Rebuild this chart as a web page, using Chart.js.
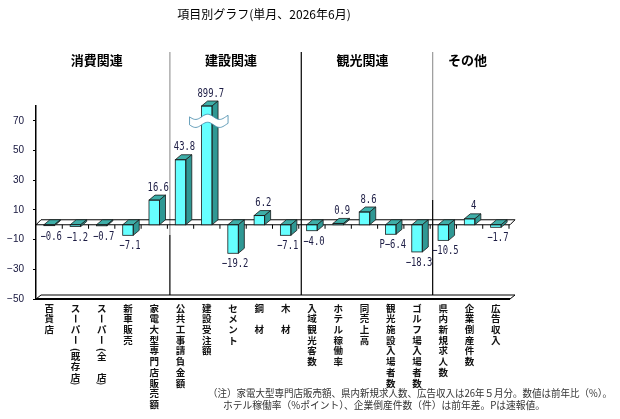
<!DOCTYPE html>
<html>
<head>
<meta charset="utf-8">
<script src="https://cdn.jsdelivr.net/npm/chart.js@4/dist/chart.umd.min.js"></script>
<style>
  html, body { margin: 0; padding: 0; background: #fff; }
  #wrap { position: relative; width: 620px; height: 419px; }
</style>
</head>
<body>
<div id="wrap"><canvas id="chart" width="620" height="419"></canvas></div>
<script>
const categories = [
  '百貨店', 'スーパー(既存店)', 'スーパー(全　店)', '新車販売', '家電大型専門店販売額',
  '公共工事請負金額', '建設受注額', 'セメント', '鋼　材', '木　材',
  '入域観光客数', 'ホテル稼働率', '同売上高', '観光施設入場者数', 'ゴルフ場入場者数',
  '県内新規求人数', '企業倒産件数', '広告収入'
];
const values = [-0.6, -1.2, -0.7, -7.1, 16.6, 43.8, 899.7, -19.2, 6.2, -7.1, -4.0, 0.9, 8.6, -6.4, -18.3, -10.5, 4, -1.7];
const valueLabels = ['−0.6', '−1.2', '−0.7', '−7.1', '16.6', '43.8', '899.7', '−19.2', '6.2', '−7.1', '−4.0', '0.9', '8.6', 'P−6.4', '−18.3', '−10.5', '4', '−1.7'];
const groups = ['消費関連', '建設関連', '観光関連', 'その他'];
const groupSizes = [5, 5, 5, 3];
const yTicks = [-50, -30, -10, 10, 30, 50, 70];
const Y_MIN = -50, Y_MAX = 80, BREAK_AT = 70;

const title = '項目別グラフ(単月、2026年6月)';
const notes = [
  '（注）家電大型専門店販売額、県内新規求人数、広告収入は26年５月分。数値は前年比（%）。',
  'ホテル稼働率（%ポイント）、企業倒産件数（件）は前年差。Pは速報値。'
];

const DX = 6, DY = 5;
const JP = '"Noto Sans CJK JP", sans-serif';

function poly(ctx, pts, fill) {
  ctx.beginPath();
  ctx.moveTo(pts[0][0], pts[0][1]);
  for (let i = 1; i < pts.length; i++) ctx.lineTo(pts[i][0], pts[i][1]);
  ctx.closePath();
  ctx.fillStyle = fill;
  ctx.fill();
  ctx.stroke();
}

function line(ctx, x1, y1, x2, y2) {
  ctx.beginPath();
  ctx.moveTo(x1, y1);
  ctx.lineTo(x2, y2);
  ctx.stroke();
}

function rotated(ctx, ch, cx, cy) {
  ctx.save();
  ctx.translate(cx, cy);
  ctx.rotate(Math.PI / 2);
  ctx.fillText(ch, 0, 0);
  ctx.restore();
}

// vertical (tategaki) label, one glyph per row
function drawVertical(ctx, text, cx, y) {
  const step = 10.7;
  let yy = y;
  for (const ch of text) {
    if (ch === '(') {
      rotated(ctx, '(', cx, yy - 1);
      yy += step * 0.5;
    } else if (ch === ')') {
      rotated(ctx, ')', cx, yy - step * 0.45);
    } else if (ch === 'ー') {
      rotated(ctx, ch, cx, yy);
      yy += step;
    } else {
      ctx.fillText(ch, cx, yy);
      yy += step;
    }
  }
}

function monoText(ctx, text, cx, cy) {
  ctx.save();
  ctx.font = '12px "DejaVu Sans Mono", monospace';
  const w = ctx.measureText(text).width * 0.74;
  ctx.translate(cx - w / 2, cy);
  ctx.scale(0.74, 1);
  ctx.textAlign = 'left';
  ctx.textBaseline = 'middle';
  ctx.fillText(text, 0, 0);
  ctx.restore();
}

const threeD = {
  id: 'threeD',
  beforeDatasetsDraw(chart) {
    const { ctx, chartArea: a, scales: { x, y } } = chart;
    const y0 = y.getPixelForValue(0);
    const yb = a.bottom;
    const step = x.getPixelForValue(1) - x.getPixelForValue(0);
    ctx.save();

    // group separators
    let idx = 0;
    const seps = [];
    groupSizes.slice(0, -1).forEach(n => {
      idx += n;
      seps.push(x.getPixelForValue(idx) - step / 2 + 2.5);
    });
    ctx.lineWidth = 1.2;
    seps.forEach((sx, i) => {
      ctx.strokeStyle = i === 1 ? '#000' : '#9a9a9a';
      line(ctx, sx, 52, sx, i === 0 ? 235 : 200);
      ctx.strokeStyle = '#000';
      line(ctx, sx, i === 0 ? 235 : 200, sx, yb - 4);
    });

    // bottom floor
    ctx.strokeStyle = '#000';
    ctx.lineWidth = 1;
    ctx.beginPath();
    ctx.moveTo(a.left, yb);
    ctx.lineTo(a.left + 5, yb - 4);
    ctx.lineTo(a.right + 6, yb - 4);
    ctx.lineTo(a.right + 1, yb);
    ctx.stroke();
    ctx.lineWidth = 2;
    line(ctx, a.left, yb, a.right + 1, yb);

    // zero plane
    ctx.lineWidth = 1;
    ctx.beginPath();
    ctx.moveTo(a.left, y0);
    ctx.lineTo(a.left + 5, y0 - 5);
    ctx.lineTo(a.right + 6, y0 - 5);
    ctx.lineTo(a.right + 1, y0);
    ctx.lineTo(a.left, y0);
    ctx.stroke();
    for (let i = 0; i < categories.length; i++) {
      const tx = x.getPixelForValue(i) + step / 2;
      line(ctx, tx, y0, tx, y0 + 4);
    }
    ctx.restore();
  },
  afterDatasetsDraw(chart) {
    const { ctx, scales: { y } } = chart;
    const meta = chart.getDatasetMeta(0);
    ctx.save();
    ctx.strokeStyle = '#1a1a1a';
    ctx.lineWidth = 0.8;
    meta.data.forEach((bar, i) => {
      const p = bar.getProps(['x', 'y', 'base', 'width'], true);
      const l = p.x - p.width / 2, r = p.x + p.width / 2;
      const top = Math.min(p.y, p.base), bot = Math.max(p.y, p.base);
      poly(ctx, [[l, top], [l + DX, top - DY], [r + DX, top - DY], [r, top]], '#3eaea8');
      poly(ctx, [[r, top], [r + DX, top - DY], [r + DX, bot - DY], [r, bot]], '#2f9894');
      ctx.strokeRect(l, top, p.width, bot - top);

      // broken-axis wave on the bar that runs off the scale
      if (values[i] > Y_MAX) {
        const yc = y.getPixelForValue(BREAK_AT);
        const x0 = l - 12, x1 = r + DX + 10;
        const wave = t => 2.6 * Math.sin(t * Math.PI * 3.2);
        const N = 30;
        ctx.beginPath();
        for (let k = 0; k <= N; k++) {
          const t = k / N;
          const xx = x0 + (x1 - x0) * t;
          k ? ctx.lineTo(xx, yc - 4 + wave(t)) : ctx.moveTo(xx, yc - 4 + wave(t));
        }
        for (let k = N; k >= 0; k--) {
          const t = k / N;
          ctx.lineTo(x0 + (x1 - x0) * t, yc + 4 + wave(t));
        }
        ctx.closePath();
        ctx.fillStyle = '#fff';
        ctx.fill();
        ctx.strokeStyle = '#3f86a8';
        ctx.stroke();
        ctx.strokeStyle = '#1a1a1a';
      }

      // value labels
      ctx.fillStyle = '#1c1c44';
      if (values[i] >= 0) monoText(ctx, valueLabels[i], p.x + 4, top - 12.5);
      else monoText(ctx, valueLabels[i], p.x + 2, bot + 11);
    });
    ctx.restore();
  },
  afterDraw(chart) {
    const { ctx, scales: { x } } = chart;
    ctx.save();
    ctx.textAlign = 'center';
    ctx.textBaseline = 'middle';

    ctx.fillStyle = '#000';
    ctx.font = '12px ' + JP;
    ctx.fillText(title, 264, 14);

    ctx.font = 'bold 13px ' + JP;
    let start = 0;
    groups.forEach((g, i) => {
      const end = start + groupSizes[i] - 1;
      const cx = (x.getPixelForValue(start) + x.getPixelForValue(end)) / 2 + (i === 0 ? -5 : -2);
      ctx.fillText(g, cx, 60);
      start = end + 1;
    });

    ctx.font = 'bold 9.5px ' + JP;
    ctx.fillStyle = '#111';
    categories.forEach((c, i) => drawVertical(ctx, c, x.getPixelForValue(i), 308));

    ctx.textAlign = 'left';
    ctx.font = '10px ' + JP;
    ctx.fillStyle = '#333';
    ctx.fillText(notes[0], 208, 393, 404);
    ctx.fillText(notes[1], 223, 405, 322);
    ctx.restore();
  }
};

new Chart(document.getElementById('chart'), {
  type: 'bar',
  data: {
    labels: categories,
    datasets: [{
      data: values.map(v => Math.min(v, Y_MAX)),
      backgroundColor: '#66ffff',
      borderWidth: 0,
      barPercentage: 0.4,
      categoryPercentage: 1
    }]
  },
  options: {
    responsive: false,
    animation: false,
    layout: { padding: { left: 0, top: 106, right: 111, bottom: 120 } },
    plugins: { legend: { display: false }, tooltip: { enabled: false } },
    scales: {
      x: { display: false },
      y: {
        min: Y_MIN,
        max: Y_MAX,
        afterFit: s => { s.width = 36; },
        afterBuildTicks: s => { s.ticks = yTicks.map(v => ({ value: v })); },
        ticks: {
          padding: 9,
          color: '#14143c',
          font: { family: 'Liberation Sans', size: 10 },
          callback: v => v < 0 ? '−' + Math.abs(v) : String(v)
        },
        grid: { drawOnChartArea: false, drawTicks: true, tickLength: 3, color: '#000' },
        border: { display: true, color: '#000', width: 1.5 }
      }
    }
  },
  plugins: [threeD]
});
</script>
</body>
</html>
